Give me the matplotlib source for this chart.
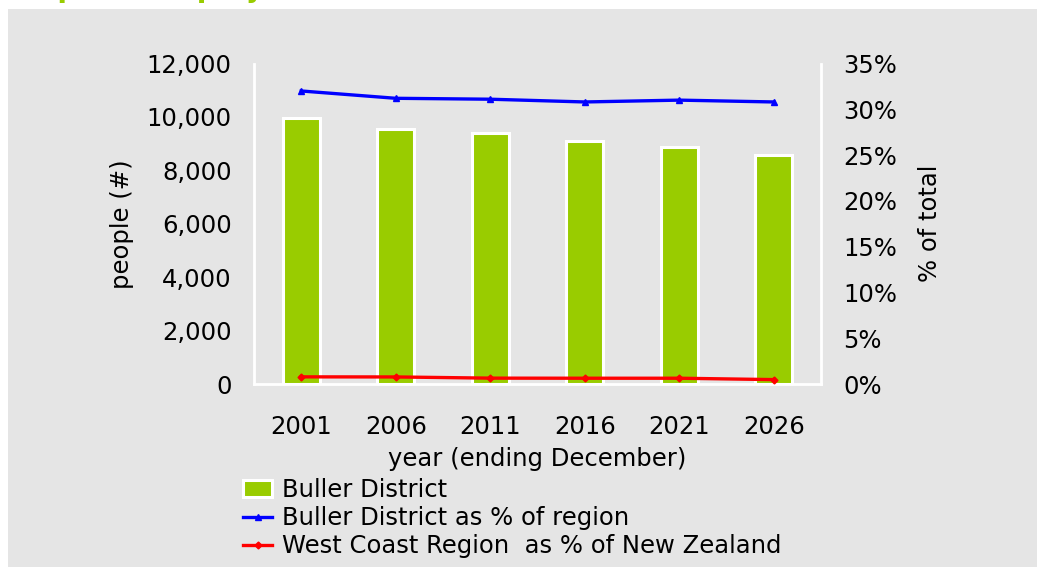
import matplotlib.pyplot as plt
from matplotlib.patches import Rectangle
from matplotlib.ticker import FuncFormatter, PercentFormatter

# data
years = ["2001", "2006", "2011", "2016", "2021", "2026"]
buller_people = [9950, 9550, 9380, 9080, 8880, 8570]
buller_pct_region = [32.0, 31.2, 31.1, 30.8, 31.0, 30.8]
westcoast_pct_nz = [0.78, 0.77, 0.64, 0.63, 0.63, 0.48]

GREEN = "#99CC00"
BG = "#E5E5E5"
FS = 17.5

W, H = 1037, 567
fig = plt.figure(figsize=(W / 100, H / 100), dpi=100, facecolor="white")

# grey panel behind the chart (white strip on top and left)
fig.patches.append(Rectangle((8 / W, 0), 1, 1 - 9 / H, transform=fig.transFigure,
                             facecolor=BG, edgecolor="none", zorder=-5))

# title, mostly cut off by the top edge
fig.text(18 / W, 1 + 3 / H, "Population projections", color=GREEN,
         fontsize=20, fontweight="bold", va="baseline", ha="left")

ax = fig.add_axes([254 / W, 1 - 384 / H, (821 - 254) / W, (384 - 63.5) / H])
ax.set_facecolor(BG)
x = list(range(len(years)))
bars = ax.bar(x, buller_people, width=0.39, color=GREEN, edgecolor="white",
              linewidth=2.2, label="Buller District", zorder=2)
ax.set_xlim(-0.5, len(years) - 0.5)
ax.set_ylim(0, 12000)
ax.set_yticks(range(0, 12001, 2000))
ax.yaxis.set_major_formatter(FuncFormatter(lambda v, p: f"{int(v):,}"))
ax.set_xticks(x)
ax.set_xticklabels(years)

ax2 = ax.twinx()
l1, = ax2.plot(x, buller_pct_region, color="#0000FF", lw=2.4, marker="^", ms=5,
               label="Buller District as % of region", zorder=3)
l2, = ax2.plot(x, westcoast_pct_nz, color="#FF0000", lw=2.4, marker="D", ms=3.5,
               label="West Coast Region  as % of New Zealand", zorder=3)
ax2.set_ylim(0, 35)
ax2.set_yticks(range(0, 36, 5))
ax2.yaxis.set_major_formatter(PercentFormatter(decimals=0))

for a in (ax, ax2):
    for side in ("top", "left", "right", "bottom"):
        a.spines[side].set_visible(False)
    a.tick_params(length=0, labelsize=FS)

ax.spines["left"].set_visible(True)
ax.spines["bottom"].set_visible(True)
ax2.spines["right"].set_visible(True)
for s in (ax.spines["left"], ax.spines["bottom"], ax2.spines["right"]):
    s.set_color("white")
    s.set_linewidth(2)

ax.tick_params(axis="y", pad=16)
ax.tick_params(axis="x", pad=22)
ax2.tick_params(axis="y", pad=16)

ax.set_xlabel("year (ending December)", fontsize=FS, labelpad=6)
ax.set_ylabel("people (#)", fontsize=FS, labelpad=9)
ax2.set_ylabel("% of total", fontsize=FS, labelpad=15)

fig.legend(handles=[bars, l1, l2], loc="upper left",
           bbox_to_anchor=(243 / W, 1 - 478 / H), frameon=False,
           fontsize=FS, handlelength=1.2, handletextpad=0.4,
           labelspacing=0.17, borderaxespad=0, borderpad=0)

fig.savefig("out.png", dpi=100, facecolor="white")
